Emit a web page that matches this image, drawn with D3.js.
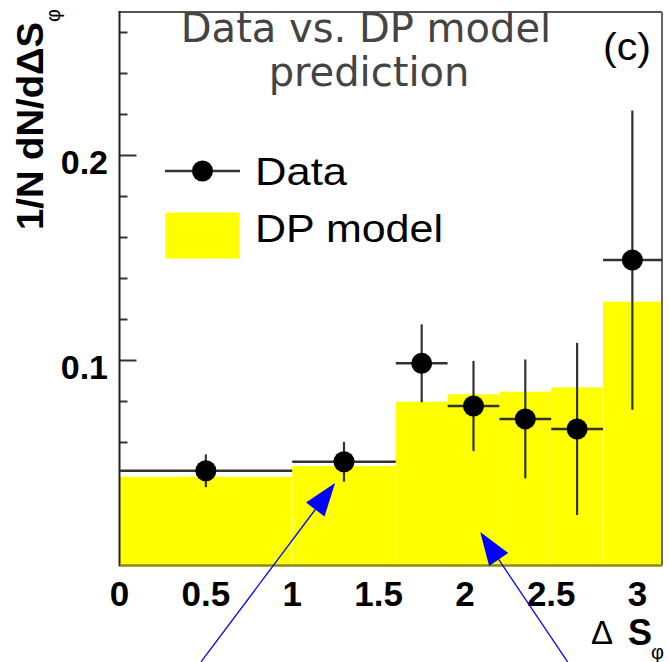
<!DOCTYPE html>
<html>
<head>
<meta charset="utf-8">
<script src="https://cdn.jsdelivr.net/npm/d3@7"></script>
<style>
  html, body { margin: 0; padding: 0; background: #fff; }
  svg { display: block; }
</style>
</head>
<body>
<div id="chart"></div>
<script>
// bins of the DP model histogram (x edges in Delta S_phi)
const binEdges = [0, 1, 1.6, 1.9, 2.2, 2.5, 2.8, 3.1416];
const dpModel = [0.0433, 0.0485, 0.0799, 0.0835, 0.0848, 0.0869, 0.1287];

// data points, one per bin
const dataX = [0.5, 1.3, 1.75, 2.05, 2.35, 2.65, 2.97];
const dataY = [0.0462, 0.0506, 0.0986, 0.0778, 0.0715, 0.0666, 0.149];
const dataErr = [0.008, 0.0097, 0.019, 0.022, 0.029, 0.042, 0.073];

// axis ticks
const xTicks = [0, 0.5, 1, 1.5, 2, 2.5, 3];
const xTickLabels = ['0', '0.5', '1', '1.5', '2', '2.5', '3'];
const yMajorTicks = [0.1, 0.2];
const yMajorLabels = ['0.1', '0.2'];
const yMinorTicks = [0.02, 0.04, 0.06, 0.08, 0.12, 0.14, 0.16, 0.18, 0.22, 0.24, 0.26];

// blue annotation arrows, [x, y] in data units
const arrowTails = [[0.472, -0.047], [2.595, -0.047]];
const arrowTips = [[1.2486, 0.0402], [2.089, 0.0163]];

const W = 669, H = 662;
const mLeft = 119.5, mRight = 662, mTop = 12, mBottom = 565.5;

const x = d3.scaleLinear().domain([0, 3.1416]).range([mLeft, mRight]);
const y = d3.scaleLinear().domain([0, 0.27]).range([mBottom, mTop]);

const svg = d3.select('#chart').append('svg')
  .attr('width', W).attr('height', H);

const rootFont = '"Liberation Sans", Arial, Helvetica, sans-serif';

// y ticks (drawn first, the histogram covers the low ones)
svg.append('g').selectAll('line')
  .data(yMinorTicks).join('line')
  .attr('x1', mLeft).attr('x2', mLeft + 8)
  .attr('y1', d => y(d)).attr('y2', d => y(d))
  .style('stroke', '#333').style('stroke-width', 2);

svg.append('g').selectAll('line')
  .data(yMajorTicks).join('line')
  .attr('x1', mLeft).attr('x2', mLeft + 17)
  .attr('y1', d => y(d)).attr('y2', d => y(d))
  .style('stroke', '#333').style('stroke-width', 2);

// DP model histogram
const bins = dpModel.map((v, i) => ({ x0: binEdges[i], x1: binEdges[i + 1], v, prev: i > 0 ? dpModel[i - 1] : 0 }));
svg.append('g').selectAll('rect')
  .data(bins).join('rect')
  .attr('x', d => x(d.x0))
  .attr('width', d => x(d.x1) - x(d.x0))
  .attr('y', d => y(d.v))
  .attr('height', d => y(0) - y(d.v))
  .style('fill', '#ffff00');

// faint bin separators
svg.append('g').selectAll('line')
  .data(bins.slice(1)).join('line')
  .attr('x1', d => x(d.x0)).attr('x2', d => x(d.x0))
  .attr('y1', d => y(Math.min(d.v, d.prev)))
  .attr('y2', y(0))
  .style('stroke', 'rgba(255,255,255,0.35)').style('stroke-width', 1);

// frame
svg.append('line')
  .attr('x1', mLeft).attr('x2', mRight).attr('y1', mTop).attr('y2', mTop)
  .style('stroke', '#555').style('stroke-width', 2);
svg.append('line')
  .attr('x1', mRight).attr('x2', mRight).attr('y1', mTop).attr('y2', mBottom)
  .style('stroke', '#666').style('stroke-width', 2);
svg.append('line')
  .attr('x1', mLeft).attr('x2', mLeft).attr('y1', mTop - 1).attr('y2', mBottom + 1)
  .style('stroke', '#222').style('stroke-width', 2);
svg.append('line')
  .attr('x1', mLeft).attr('x2', mRight).attr('y1', mBottom).attr('y2', mBottom)
  .style('stroke', '#8f8a10').style('stroke-width', 2.5);

// data: error bars and markers
const pts = dataX.map((v, i) => ({
  x: v, y: dataY[i], e: dataErr[i], x0: binEdges[i], x1: binEdges[i + 1]
}));
const gData = svg.append('g');
gData.append('g').selectAll('line')
  .data(pts).join('line')
  .attr('x1', d => x(d.x0)).attr('x2', d => x(d.x1))
  .attr('y1', d => y(d.y)).attr('y2', d => y(d.y))
  .style('stroke', '#333').style('stroke-width', 2.5);
gData.append('g').selectAll('line')
  .data(pts).join('line')
  .attr('x1', d => x(d.x)).attr('x2', d => x(d.x))
  .attr('y1', d => y(d.y + d.e)).attr('y2', d => y(d.y - d.e))
  .style('stroke', '#333').style('stroke-width', 2.2);
gData.append('g').selectAll('circle')
  .data(pts).join('circle')
  .attr('cx', d => x(d.x)).attr('cy', d => y(d.y))
  .attr('r', 10.5)
  .style('fill', '#000');

// tick labels
svg.append('g').selectAll('text')
  .data(xTicks).join('text')
  .attr('x', d => x(d)).attr('y', 606)
  .attr('text-anchor', 'middle')
  .style('font-family', rootFont).style('font-weight', 'bold')
  .style('font-size', '35px')
  .text((d, i) => xTickLabels[i]);

svg.append('g').selectAll('text')
  .data(yMajorTicks).join('text')
  .attr('x', 108).attr('y', d => y(d) + 18)
  .attr('text-anchor', 'end')
  .style('font-family', rootFont).style('font-weight', 'bold')
  .style('font-size', '34px')
  .text((d, i) => yMajorLabels[i]);

// y title
const yTitle = svg.append('text')
  .attr('transform', 'translate(43,230) rotate(-90)')
  .style('font-family', rootFont).style('font-weight', 'bold')
  .style('font-size', '37px');
yTitle.append('tspan').text('1/N dN/d\u0394S')
  .attr('textLength', 208).attr('lengthAdjust', 'spacingAndGlyphs');
yTitle.append('tspan').text('\u03c6')
  .attr('dy', 17).style('font-size', '20px').style('font-weight', 'normal');

// x title
svg.append('text').attr('x', 591).attr('y', 644)
  .style('font-family', rootFont).style('font-size', '33px')
  .text('\u0394');
svg.append('text').attr('x', 628).attr('y', 645)
  .style('font-family', rootFont).style('font-weight', 'bold').style('font-size', '36px')
  .text('S');
svg.append('text').attr('x', 651).attr('y', 659)
  .style('font-family', rootFont).style('font-size', '20px')
  .text('\u03c6');

// panel label
svg.append('text').attr('x', 603).attr('y', 60)
  .attr('textLength', 48).attr('lengthAdjust', 'spacingAndGlyphs')
  .style('font-family', rootFont).style('font-size', '38px')
  .text('(c)');

// legend
svg.append('line')
  .attr('x1', 165).attr('x2', 240).attr('y1', 171).attr('y2', 171)
  .style('stroke', '#333').style('stroke-width', 2.5);
svg.append('circle')
  .attr('cx', 202.5).attr('cy', 171).attr('r', 10.5)
  .style('fill', '#000');
svg.append('text').attr('x', 255).attr('y', 185)
  .attr('textLength', 92).attr('lengthAdjust', 'spacingAndGlyphs')
  .style('font-family', rootFont).style('font-size', '39px')
  .text('Data');
svg.append('rect')
  .attr('x', 165.5).attr('y', 212.5).attr('width', 74).attr('height', 46)
  .style('fill', '#ffff00');
svg.append('text').attr('x', 255).attr('y', 242)
  .attr('textLength', 188).attr('lengthAdjust', 'spacingAndGlyphs')
  .style('font-family', rootFont).style('font-size', '39px')
  .text('DP model');

// overlay title
const title = svg.append('text')
  .attr('text-anchor', 'middle')
  .style('font-family', '"DejaVu Sans", sans-serif')
  .style('font-size', '40px')
  .style('fill', '#444');
title.append('tspan').attr('x', 366).attr('y', 42).text('Data vs. DP model');
title.append('tspan').attr('x', 369).attr('y', 86).text('prediction');

// blue arrows
const arrows = arrowTails.map((t, i) => ({ t, h: arrowTips[i] }));
const gArr = svg.append('g');
arrows.forEach(a => {
  const x0 = x(a.t[0]), y0 = y(a.t[1]);
  const x1 = x(a.h[0]), y1 = y(a.h[1]);
  const len = Math.hypot(x1 - x0, y1 - y0);
  const ux = (x1 - x0) / len, uy = (y1 - y0) / len;
  const hl = 33, hw = 11.5;
  const bx = x1 - ux * hl, by = y1 - uy * hl;
  gArr.append('line')
    .attr('x1', x0).attr('y1', y0).attr('x2', bx).attr('y2', by)
    .style('stroke', '#0000ff').style('stroke-width', 1.3);
  gArr.append('path')
    .attr('d', 'M' + x1 + ',' + y1 +
      'L' + (bx - uy * hw) + ',' + (by + ux * hw) +
      'L' + (bx + uy * hw) + ',' + (by - ux * hw) + 'Z')
    .style('fill', '#0000ff');
});
</script>
</body>
</html>
